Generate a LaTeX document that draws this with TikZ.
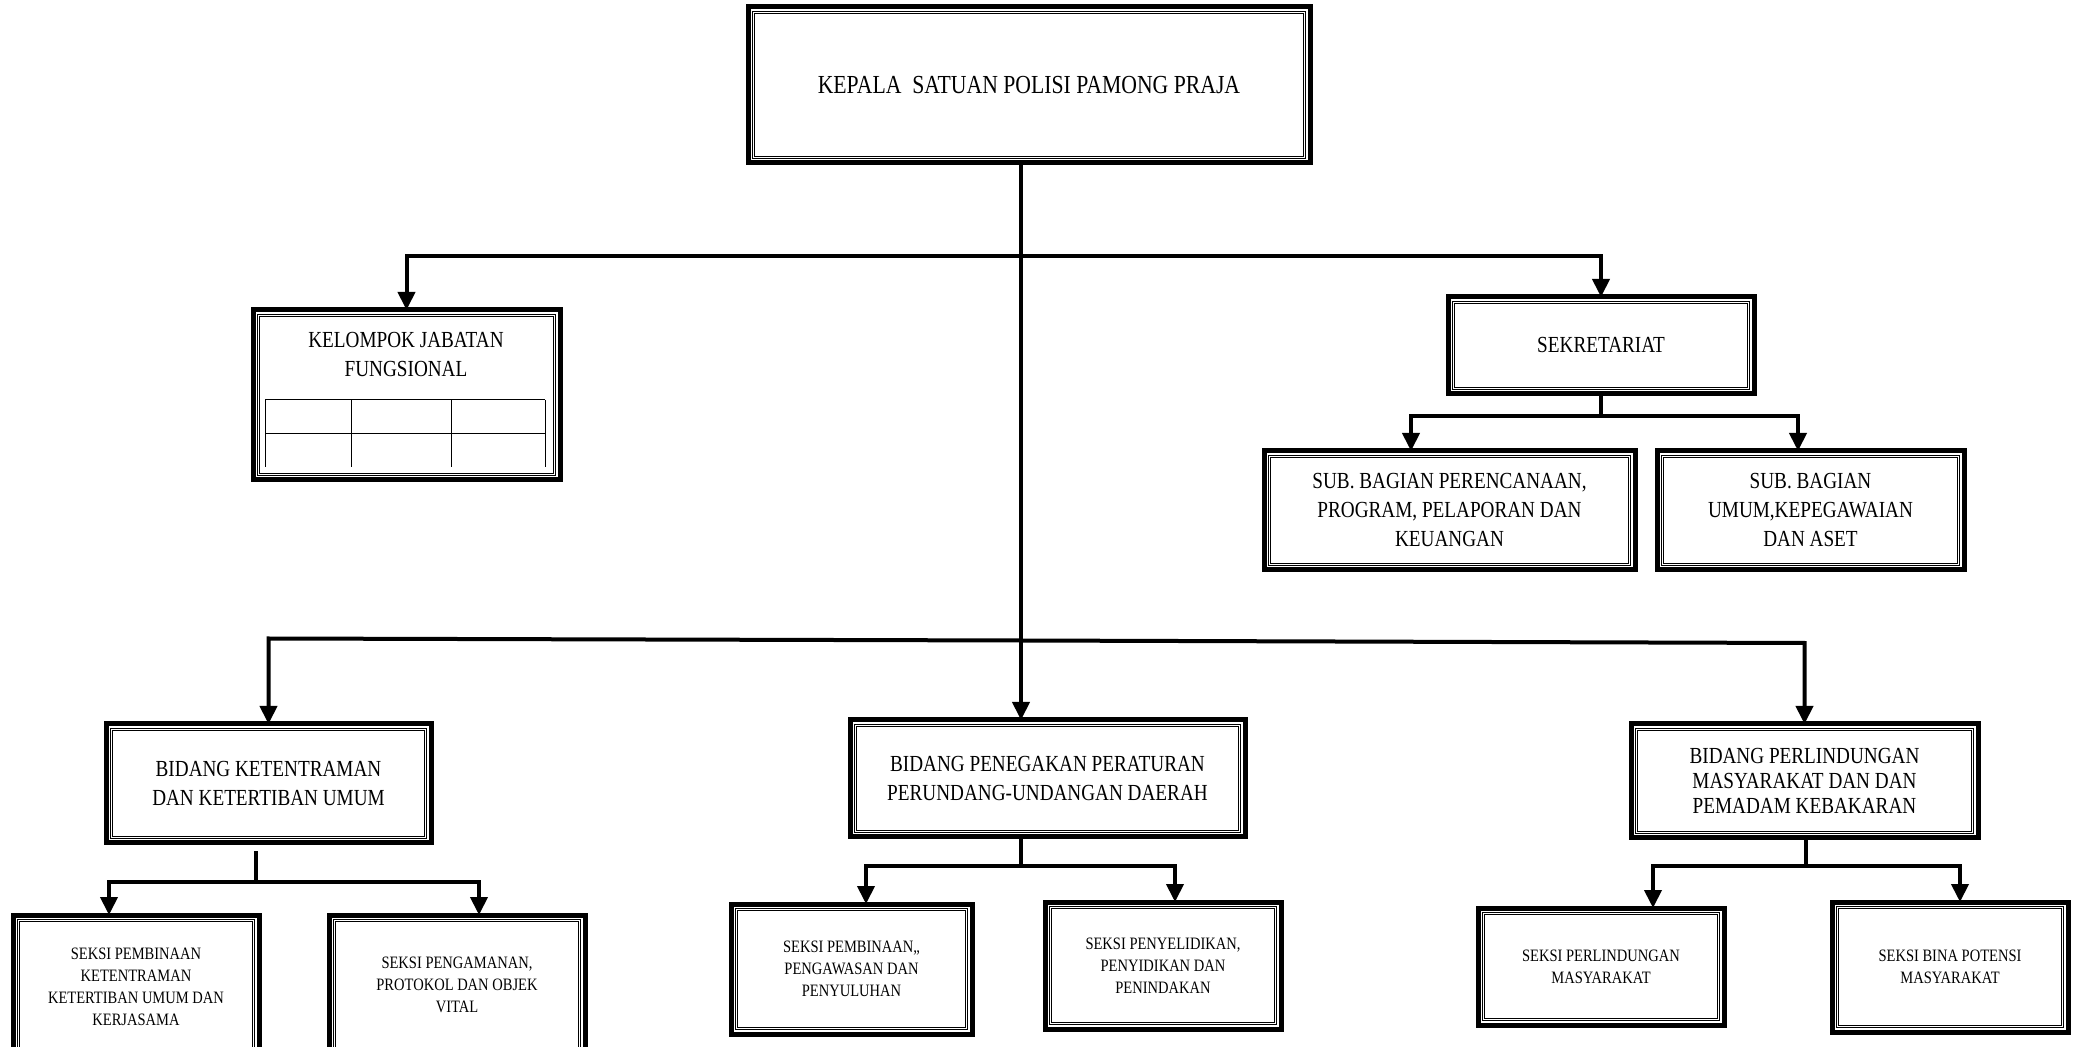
\documentclass[tikz,border=0pt]{standalone}
\usepackage{fontspec}
\setmainfont{Liberation Serif}[FakeStretch=0.835]
\usetikzlibrary{arrows.meta}
\begin{document}
\begin{tikzpicture}[x=0.5pt,y=-0.5pt,
  box/.style={draw, line width=2.5pt, inner sep=0pt, outer sep=0pt, align=center},
  innerframe/.style={draw, double, line width=0.45pt, double distance=0.8pt},
  conn/.style={line width=2pt},
  arr/.style={conn, -{Triangle[width=8.5pt,length=9pt]}},
  big/.style={font=\fontsize{11.5}{14.5}\selectfont},
  small/.style={font=\fontsize{8.7}{11}\selectfont},
  tbl/.style={line width=0.5pt}]
\clip (0,0) rectangle (2079,1047);
\fill[white] (0,0) rectangle (2079,1047);
% boxes
\node[box, minimum width=281pt, minimum height=78pt, font=\fontsize{13}{16}\selectfont] (kepala) at (1029,85) {KEPALA\ \ SATUAN POLISI PAMONG PRAJA};
\node[box, minimum width=153.5pt, minimum height=85pt] (kjf) at (406.5,395) {};
\node[big, align=center] (kjft) at (406,355) {KELOMPOK JABATAN\\FUNGSIONAL};
\node[box, big, minimum width=153pt, minimum height=48.5pt] (sek) at (1601,345.5) {SEKRETARIAT};
\node[box, big, minimum width=185.5pt, minimum height=59.5pt] (sub1) at (1449.5,510.5) {SUB. BAGIAN PERENCANAAN,\\PROGRAM, PELAPORAN DAN\\KEUANGAN};
\node[box, big, minimum width=153.5pt, minimum height=59.5pt] (sub2) at (1810.5,510.5) {SUB. BAGIAN\\UMUM,KEPEGAWAIAN\\DAN ASET};
\node[box, big, minimum width=162.5pt, minimum height=59.5pt] (ket) at (268.5,783.5) {BIDANG KETENTRAMAN\\DAN KETERTIBAN UMUM};
\node[box, big, minimum width=197.5pt, minimum height=58.5pt] (pen) at (1047.5,778.5) {BIDANG PENEGAKAN PERATURAN\\PERUNDANG-UNDANGAN DAERAH};
\node[box, minimum width=173.5pt, minimum height=57pt, font=\fontsize{11.5}{12.5}\selectfont] (perl) at (1804.5,781) {BIDANG PERLINDUNGAN\\MASYARAKAT DAN DAN\\PEMADAM KEBAKARAN};
\node[box, small, minimum width=123pt, minimum height=71.5pt] (sk1) at (136,986.5) {SEKSI PEMBINAAN\\KETENTRAMAN\\KETERTIBAN UMUM DAN\\KERJASAMA};
\node[box, small, minimum width=128pt, minimum height=69.5pt] (sk2) at (457,984.5) {SEKSI PENGAMANAN,\\PROTOKOL DAN OBJEK\\VITAL};
\node[box, small, minimum width=120.5pt, minimum height=65pt] (sp1) at (851.5,969) {SEKSI PEMBINAAN,,\\PENGAWASAN DAN\\PENYULUHAN};
\node[box, small, minimum width=118pt, minimum height=63.5pt] (sp2) at (1163,965.5) {SEKSI PENYELIDIKAN,\\PENYIDIKAN DAN\\PENINDAKAN};
\node[box, small, minimum width=123pt, minimum height=58.5pt] (spl1) at (1601,966.5) {SEKSI PERLINDUNGAN\\MASYARAKAT};
\node[box, small, minimum width=118pt, minimum height=65pt] (spl2) at (1950,967) {SEKSI BINA POTENSI\\MASYARAKAT};
% inner double frames
\foreach \n in {kepala,kjf,sek,sub1,sub2,ket,pen,perl,sk1,sk2,sp1,sp2,spl1,spl2}
  \draw[innerframe] ([shift={(2.8pt,2.8pt)}]\n.south west) rectangle ([shift={(-2.8pt,-2.8pt)}]\n.north east);
% table in kelompok
\draw[tbl] (265,400) -- (545,400);
\draw[tbl] (265,434) -- (545,434);
\foreach \x in {265,351,451,545} \draw[tbl] (\x,400) -- (\x,467);
% junction coordinates
\coordinate (j1) at (1021,256);
\coordinate (j2) at (1021,640.5);
\coordinate (b2l) at (268.5,638.5);
\coordinate (b2r) at (1804.5,643);
\coordinate (sj) at (1601,416);
\coordinate (s1x) at (1411,0);
\coordinate (s2x) at (1798,0);
\coordinate (kj) at (256,882);
\coordinate (k1x) at (109,0);
\coordinate (k2x) at (479,0);
\coordinate (pj) at (1021,866);
\coordinate (p1x) at (866,0);
\coordinate (p2x) at (1175,0);
\coordinate (lj) at (1806,866);
\coordinate (l1x) at (1653,0);
\coordinate (l2x) at (1960,0);
% level 1
\draw[arr] (kepala.south -| j1) -- (pen.north -| j1);
\draw[arr] (j1) -| (kjf.north);
\draw[arr] (j1) -| (sek.north);
\draw[arr] (j2) -- (b2l) -- (ket.north);
\draw[arr] (j2) -- (b2r) -- (perl.north);
% sekretariat
\draw[conn] (sek.south) -- (sj);
\draw[arr] (sj) -| (sub1.north -| s1x);
\draw[arr] (sj) -| (sub2.north -| s2x);
% ketentraman
\draw[conn] (ket.south -| kj) ++(0,-4pt) -- (kj);
\draw[arr] (kj) -| (sk1.north -| k1x);
\draw[arr] (kj) -| (sk2.north -| k2x);
% penegakan
\draw[conn] (pen.south -| pj) -- (pj);
\draw[arr] (pj) -| (sp1.north -| p1x);
\draw[arr] (pj) -| (sp2.north -| p2x);
% perlindungan
\draw[conn] (perl.south -| lj) -- (lj);
\draw[arr] (lj) -| (spl1.north -| l1x);
\draw[arr] (lj) -| (spl2.north -| l2x);
\end{tikzpicture}
\end{document}
